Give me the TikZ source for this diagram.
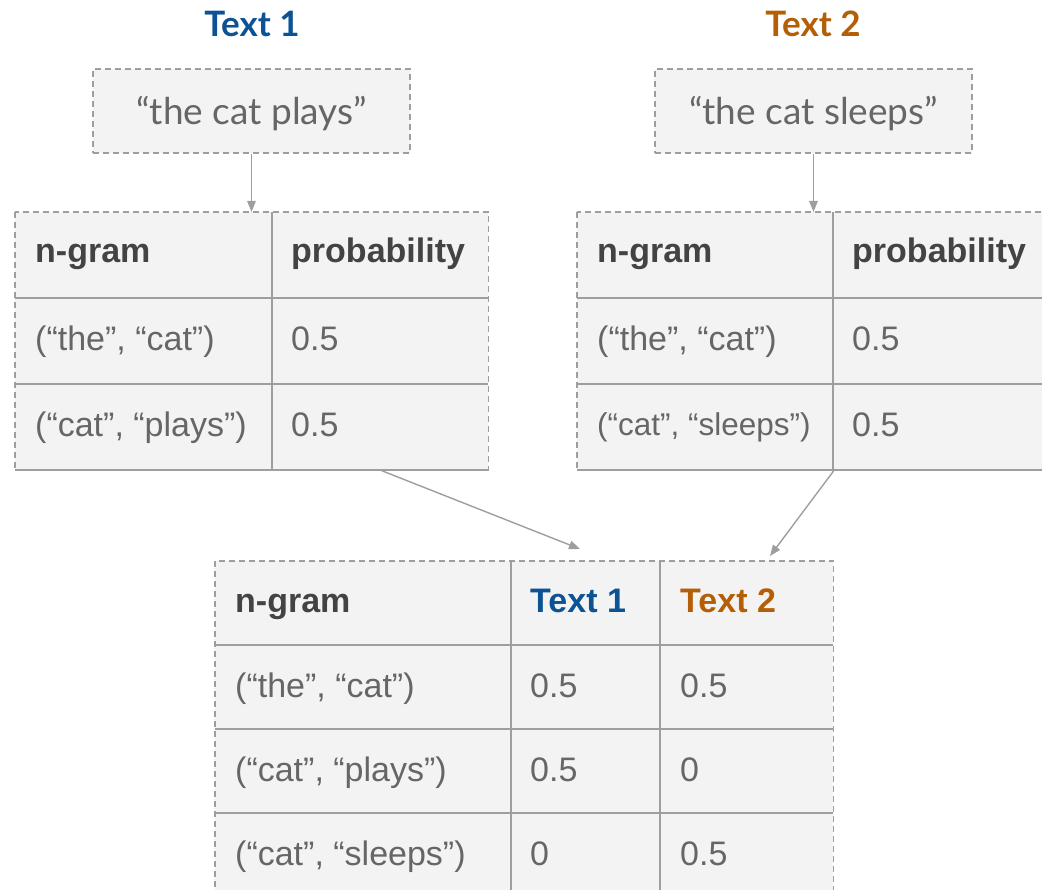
\documentclass[tikz,border=0pt]{standalone}
\usepackage{fontspec}
\setmainfont{Liberation Sans}
\newfontfamily\latofont{Lato}
\usetikzlibrary{arrows.meta,calc}
\definecolor{bordergray}{HTML}{9E9E9E}
\definecolor{cellfill}{HTML}{F3F3F3}
\definecolor{headtext}{HTML}{434343}
\definecolor{bodytext}{HTML}{666666}
\definecolor{blueT}{HTML}{0B5394}
\definecolor{orangeT}{HTML}{B45F06}
\begin{document}
\begin{tikzpicture}[x=1pt,y=-1pt,
  tablebox/.style={draw=none, fill=cellfill, rectangle, inner sep=0pt, anchor=north west},
  dashborder/.style={draw=bordergray, line width=1.6pt, dash pattern=on 6pt off 4pt},
  gridline/.style={draw=bordergray, line width=1.8pt},
  head/.style={anchor=base west, inner sep=0pt, text=headtext, font=\fontsize{34}{40}\selectfont\bfseries},
  body/.style={anchor=base west, inner sep=0pt, text=bodytext, font=\fontsize{34}{40}\selectfont},
  title/.style={inner sep=0pt, font=\latofont\fontsize{35}{40}\selectfont\bfseries},
  quotebox/.style={draw=bordergray, line width=1.6pt, dash pattern=on 6pt off 4pt, fill=cellfill,
    minimum width=317pt, minimum height=84pt, inner sep=0pt, text=bodytext,
    text height=28pt, text depth=0pt,
    font=\latofont\fontsize{37}{42}\selectfont},
  arr/.style={draw=bordergray, line width=1.4pt, -{Triangle[length=11pt,width=8.5pt]}}
]
\clip (0,0) rectangle (1042,890);
\useasboundingbox (0,0) rectangle (1042,890);

% titles
\node[title, text=blueT] (ti1) at (252,24) {Text 1};
\node[title, text=orangeT] (ti2) at (813,24) {Text 2};

% quote boxes
\node[quotebox] (q1) at (251.5,111) {“the cat plays”};
\node[quotebox] (q2) at (813.5,111) {“the cat sleeps”};

% table 1
\node[tablebox, minimum width=473pt, minimum height=258pt] (t1) at (15,212) {};
\draw[gridline] (15,298) -- (488,298);
\draw[gridline] (15,384) -- (488,384);
\draw[gridline] (272,212) -- (272,470);
\draw[gridline] (15,470) -- (488,470);
\draw[dashborder] (t1.north west) rectangle (t1.south east);
\node[head] (t1a) at (35,263) {n-gram};
\node[head] (t1b) at (291,263) {probability};
\node[body] (t1c) at (35,351) {(“the”, “cat”)};
\node[body] (t1d) at (291,351) {0.5};
\node[body] (t1e) at (35,437) {(“cat”, “plays”)};
\node[body] (t1f) at (291,437) {0.5};

% table 2
\node[tablebox, minimum width=473pt, minimum height=258pt] (t2) at (577,212) {};
\draw[gridline] (577,298) -- (1050,298);
\draw[gridline] (577,384) -- (1050,384);
\draw[gridline] (833,212) -- (833,470);
\draw[gridline] (577,470) -- (1050,470);
\draw[dashborder] (t2.north west) rectangle (t2.south east);
\node[head] (t2a) at (597,263) {n-gram};
\node[head] (t2b) at (852,263) {probability};
\node[body] (t2c) at (597,351) {(“the”, “cat”)};
\node[body] (t2d) at (852,351) {0.5};
\node[body, font=\fontsize{31.5}{38}\selectfont] (t2e) at (597,436) {(“cat”, “sleeps”)};
\node[body] (t2f) at (852,437) {0.5};

% table 3
\node[tablebox, minimum width=618pt, minimum height=336pt] (t3) at (215,561) {};
\draw[gridline] (215,645) -- (833,645);
\draw[gridline] (215,729) -- (833,729);
\draw[gridline] (215,813) -- (833,813);
\draw[gridline] (511,561) -- (511,897);
\draw[gridline] (660,561) -- (660,897);
\draw[dashborder] (t3.north west) rectangle (t3.south east);
\node[head] (t3a) at (235,612) {n-gram};
\node[head, text=blueT] (t3b) at (530,612) {Text 1};
\node[head, text=orangeT] (t3c) at (680,612) {Text 2};
\node[body] (t3d) at (235,697) {(“the”, “cat”)};
\node[body] (t3e) at (530,697) {0.5};
\node[body] (t3f) at (680,697) {0.5};
\node[body] (t3g) at (235,781) {(“cat”, “plays”)};
\node[body] (t3h) at (530,781) {0.5};
\node[body] (t3i) at (680,781) {0};
\node[body] (t3j) at (235,865) {(“cat”, “sleeps”)};
\node[body] (t3k) at (530,865) {0};
\node[body] (t3l) at (680,865) {0.5};

% connectors
\coordinate (m1) at (580,549);
\coordinate (m2) at (770,556);
\draw[arr] (q1.south) -- (q1.south |- t1.north);
\draw[arr] (q2.south) -- (q2.south |- t2.north);
\draw[arr] (t1.south -| 381,0) -- (m1);
\draw[arr] (t2.south -| 834,0) -- (m2);
\end{tikzpicture}
\end{document}
